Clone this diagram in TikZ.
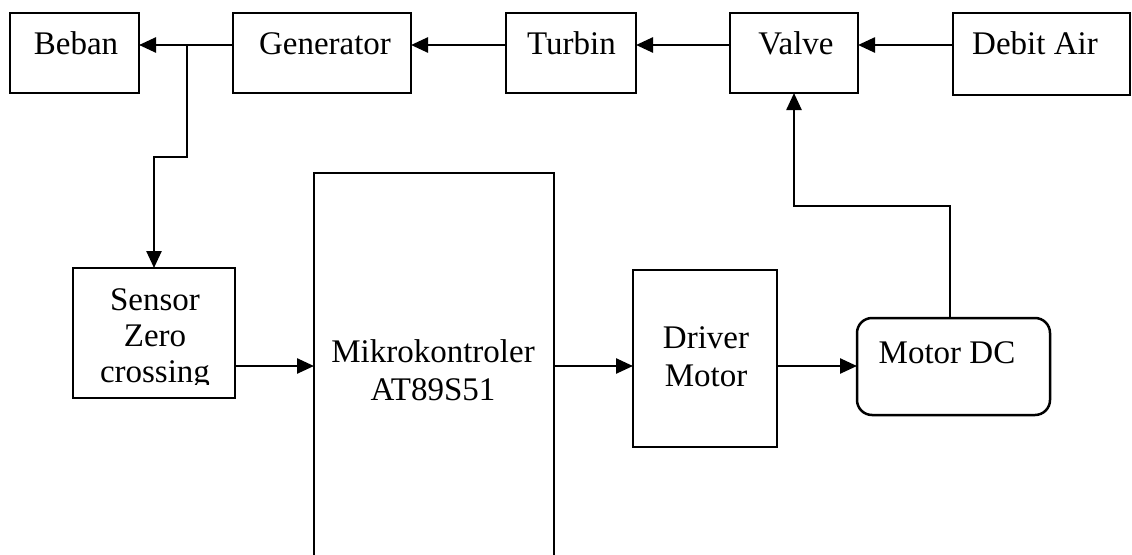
\documentclass[tikz,border=0pt]{standalone}
\usepackage{fontspec}
\setmainfont{Liberation Serif}
\usetikzlibrary{arrows.meta}
\begin{document}
\begin{tikzpicture}[x=1pt,y=-1pt,
  box/.style={draw, line width=2.5pt, inner sep=0pt, outer sep=0pt},
  lbl/.style={font=\fontsize{33}{38}\selectfont, inner sep=0pt, anchor=base},
  arr/.style={line width=2.5pt, -{Triangle[length=17pt,width=15pt]}},
  wire/.style={line width=2.5pt}]
\useasboundingbox (0,0) rectangle (1132,554);
\clip (0,0) rectangle (1132,554);
% boxes
\node[box, minimum width=129pt, minimum height=80pt] (beban) at (74.5,53) {};
\node[box, minimum width=178pt, minimum height=80pt] (gen) at (322,53) {};
\node[box, minimum width=130pt, minimum height=80pt] (turbin) at (571,53) {};
\node[box, minimum width=128pt, minimum height=80pt] (valve) at (794,53) {};
\node[box, minimum width=177pt, minimum height=82pt] (debit) at (1041.5,54) {};
\node[box, minimum width=162pt, minimum height=130pt] (sensor) at (154,333) {};
\node[box, minimum width=240pt, minimum height=427pt] (mikro) at (434,386.5) {};
\node[box, minimum width=144pt, minimum height=177pt] (driver) at (705,358.5) {};
\node[box, rounded corners=15pt, minimum width=193pt, minimum height=97pt] (motordc) at (953.5,366.5) {};
% labels
\node[lbl] (tbeban) at (76,54) {Beban};
\node[lbl] (tgen) at (325,54) {Generator};
\node[lbl] (tturbin) at (571.5,54) {Turbin};
\node[lbl] (tvalve) at (796,54) {Valve};
\node[lbl] (tdebit) at (1035,54) {Debit Air};
\node[lbl] (tsensor1) at (155,310) {Sensor};
\node[lbl] (tsensor2) at (155,346) {Zero};
\begin{scope}
\clip (73,268) rectangle (235,384);
\node[lbl] (tsensor3) at (155,382) {crossing};
\end{scope}
\node[lbl] (tmikro1) at (433,362) {Mikrokontroler};
\node[lbl] (tmikro2) at (433,400) {AT89S51};
\node[lbl] (tdriver1) at (706,348) {Driver};
\node[lbl] (tdriver2) at (706,386) {Motor};
\node[lbl] (tmotordc) at (947,363) {Motor DC};
% connectors
\coordinate (row) at (0,45);
\coordinate (row2) at (0,366);
\coordinate (j1) at (187,45);
\coordinate (bend1) at (187,157);
\coordinate (mdcx) at (950,0);
\coordinate (bend2) at (950,206);
\draw[arr] (gen.west |- row) -- (beban.east |- row);
\draw[arr] (turbin.west |- row) -- (gen.east |- row);
\draw[arr] (valve.west |- row) -- (turbin.east |- row);
\draw[arr] (debit.west |- row) -- (valve.east |- row);
\draw[arr] (j1) -- (bend1) -| (sensor.north);
\draw[arr] (sensor.east |- row2) -- (mikro.west |- row2);
\draw[arr] (mikro.east |- row2) -- (driver.west |- row2);
\draw[arr] (driver.east |- row2) -- (motordc.west |- row2);
\draw[arr] (motordc.north -| mdcx) -- (bend2) -| (valve.south);
\end{tikzpicture}
\end{document}
